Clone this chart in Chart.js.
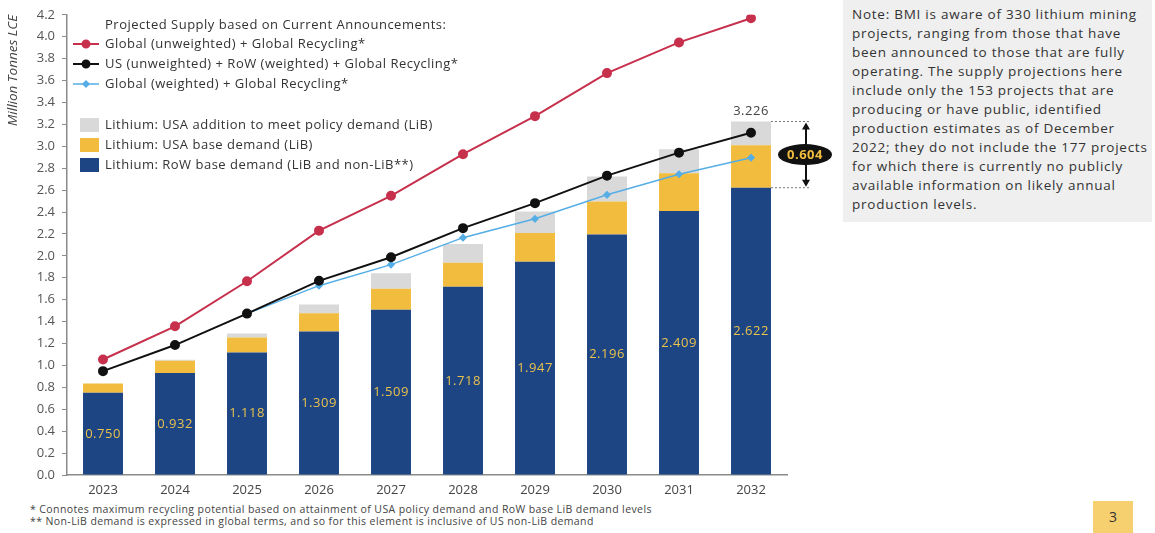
<!DOCTYPE html>
<html>
<head>
<meta charset="utf-8">
<script src="https://cdn.jsdelivr.net/npm/chart.js@4.4.1/dist/chart.umd.min.js"></script>
<style>
  body { margin: 0; width: 1155px; height: 533px; background: #fff; position: relative; overflow: hidden; font-family: "Open Sans", sans-serif; }
  #wrap { position: absolute; left: 0; top: 0; width: 840px; height: 500px; }
  #note { position: absolute; left: 843px; top: 0; width: 300px; height: 212px; background: #efefef; padding: 5px 0 5px 9px; font-size: 13.5px; line-height: 19px; letter-spacing: 0.75px; color: #333; white-space: nowrap; }
  .foot { position: absolute; left: 30px; font-size: 10.5px; line-height: 12px; letter-spacing: 0.4px; color: #444; white-space: nowrap; }
  #page { position: absolute; left: 1093px; top: 501px; width: 40px; height: 32px; background: #f6d06f; text-align: center; line-height: 32px; font-size: 14px; color: #333; }
</style>
</head>
<body>
<div id="wrap"><canvas id="supplyChart" width="840" height="500"></canvas></div>
<div id="note">Note: BMI is aware of 330 lithium mining<br>projects, ranging from those that have<br>been announced to those that are fully<br>operating. The supply projections here<br>include only the 153 projects that are<br>producing or have public, identified<br>production estimates as of December<br>2022; they do not include the 177 projects<br>for which there is currently no publicly<br>available information on likely annual<br>production levels.</div>
<div class="foot" style="top:503px">* Connotes maximum recycling potential based on attainment of USA policy demand and RoW base LiB demand levels</div>
<div class="foot" style="top:515px">** Non-LiB demand is expressed in global terms, and so for this element is inclusive of US non-LiB demand</div>
<div id="page">3</div>
<script>
const years = ['2023', '2024', '2025', '2026', '2027', '2028', '2029', '2030', '2031', '2032'];

// demand stacks (million tonnes LCE)
const rowBase = [0.750, 0.932, 1.118, 1.309, 1.509, 1.718, 1.947, 2.196, 2.409, 2.622];
const usaBase = [0.085, 0.110, 0.137, 0.168, 0.190, 0.218, 0.262, 0.300, 0.345, 0.388];
const usaPolicy = [0.000, 0.010, 0.036, 0.080, 0.142, 0.173, 0.196, 0.228, 0.219, 0.216];

// supply projections
const globalUnweighted = [1.054, 1.357, 1.768, 2.230, 2.548, 2.928, 3.275, 3.668, 3.948, 4.168];
const usRowMix = [0.948, 1.186, 1.473, 1.772, 1.987, 2.253, 2.481, 2.732, 2.942, 3.124];
const globalWeighted = [null, null, 1.473, 1.728, 1.920, 2.166, 2.338, 2.557, 2.745, 2.896];

const yTicks = [0, 0.2, 0.4, 0.6, 0.8, 1.0, 1.2, 1.4, 1.6, 1.8, 2.0, 2.2, 2.4, 2.6, 2.8, 3.0, 3.2, 3.4, 3.6, 3.8, 4.0, 4.2];

const NAVY = '#1d4483', GOLD = '#f2bd3f', GREY = '#d9d9d9';
const RED = '#c7304c', BLACK = '#111111', SKY = '#55aee6';
const FONT = "'Open Sans', sans-serif";

Chart.defaults.font.family = FONT;
Chart.defaults.color = '#555';

const lastIdx = years.length - 1;
const lastTotal = rowBase[lastIdx] + usaBase[lastIdx] + usaPolicy[lastIdx];
const usaGap = usaBase[lastIdx] + usaPolicy[lastIdx];

// labels in the bars, the 2032 total and the USA gap marker
const barLabels = {
  id: 'barLabels',
  afterDatasetsDraw(chart) {
    const { ctx, scales: { x, y } } = chart;
    const navyMeta = chart.getDatasetMeta(0);
    ctx.save();
    ctx.font = '13px ' + FONT;
    ctx.letterSpacing = '0.5px';
    ctx.textAlign = 'center';
    ctx.textBaseline = 'middle';
    ctx.fillStyle = '#eac24c';
    rowBase.forEach((v, i) => {
      ctx.fillText(v.toFixed(3), x.getPixelForValue(i), y.getPixelForValue(v / 2));
    });

    const bar = navyMeta.data[lastIdx];
    const cx = x.getPixelForValue(lastIdx);
    const yTop = y.getPixelForValue(lastTotal);
    const yBase = y.getPixelForValue(rowBase[lastIdx]);
    ctx.fillStyle = '#444';
    ctx.fillText(lastTotal.toFixed(3), cx, yTop - 10);

    // dotted guides
    const right = bar.x + bar.width / 2;
    const ax = 806;
    ctx.strokeStyle = '#777';
    ctx.lineWidth = 1;
    ctx.setLineDash([2, 2]);
    ctx.beginPath();
    ctx.moveTo(right, yTop); ctx.lineTo(ax + 4, yTop);
    ctx.moveTo(right, yBase); ctx.lineTo(ax + 4, yBase);
    ctx.stroke();
    ctx.setLineDash([]);

    // double arrow
    ctx.strokeStyle = '#111';
    ctx.fillStyle = '#111';
    ctx.lineWidth = 2;
    ctx.beginPath();
    ctx.moveTo(ax, yTop + 4); ctx.lineTo(ax, yBase - 4);
    ctx.stroke();
    ctx.beginPath();
    ctx.moveTo(ax, yTop + 1); ctx.lineTo(ax - 4, yTop + 8); ctx.lineTo(ax + 4, yTop + 8); ctx.closePath();
    ctx.moveTo(ax, yBase - 1); ctx.lineTo(ax - 4, yBase - 8); ctx.lineTo(ax + 4, yBase - 8); ctx.closePath();
    ctx.fill();

    const my = (yTop + yBase) / 2;
    ctx.beginPath();
    ctx.ellipse(ax - 1, my, 27, 10.5, 0, 0, Math.PI * 2);
    ctx.fill();
    ctx.fillStyle = GOLD;
    ctx.font = 'bold 13px ' + FONT;
    ctx.fillText(usaGap.toFixed(3), ax - 1, my + 0.5);
    ctx.restore();
  }
};

// legend block in the upper-left of the plot
const legendBlock = {
  id: 'legendBlock',
  afterDraw(chart) {
    const ctx = chart.ctx;
    ctx.save();
    ctx.font = '13px ' + FONT;
    ctx.letterSpacing = '0.5px';
    ctx.fillStyle = '#333';
    ctx.textBaseline = 'middle';
    ctx.textAlign = 'left';
    ctx.fillText('Projected Supply based on Current Announcements:', 105, 25);

    const lines = [
      { y: 44, color: RED, text: 'Global (unweighted) + Global Recycling*', style: 'circle', r: 3.5, w: 2 },
      { y: 64, color: BLACK, text: 'US (unweighted) + RoW (weighted) + Global Recycling*', style: 'circle', r: 3.5, w: 2 },
      { y: 84, color: SKY, text: 'Global (weighted) + Global Recycling*', style: 'rectRot', r: 3, w: 1.5 }
    ];
    lines.forEach(l => {
      ctx.strokeStyle = l.color;
      ctx.fillStyle = l.color;
      ctx.lineWidth = l.w;
      ctx.beginPath();
      ctx.moveTo(73, l.y); ctx.lineTo(99, l.y);
      ctx.stroke();
      Chart.helpers.drawPoint(ctx, { pointStyle: l.style, radius: l.r, borderWidth: 1 }, 86, l.y);
      ctx.fillStyle = '#333';
      ctx.fillText(l.text, 105, l.y);
    });

    const boxes = [
      { y: 125, color: GREY, text: 'Lithium: USA addition to meet policy demand (LiB)' },
      { y: 145, color: GOLD, text: 'Lithium: USA base demand (LiB)' },
      { y: 165, color: NAVY, text: 'Lithium: RoW base demand (LiB and non-LiB**)' }
    ];
    boxes.forEach(b => {
      ctx.fillStyle = b.color;
      ctx.fillRect(80, b.y - 7, 19, 14);
      ctx.fillStyle = '#333';
      ctx.fillText(b.text, 105, b.y);
    });
    ctx.restore();
  }
};

const barCommon = { stack: 'demand', order: 3, barPercentage: 0.555, categoryPercentage: 1.0, borderWidth: 0 };
const lineCommon = { type: 'line', fill: false, tension: 0, spanGaps: false };

new Chart(document.getElementById('supplyChart'), {
  type: 'bar',
  data: {
    labels: years,
    datasets: [
      { ...barCommon, label: 'Lithium: RoW base demand (LiB and non-LiB**)', data: rowBase, backgroundColor: NAVY },
      { ...barCommon, label: 'Lithium: USA base demand (LiB)', data: usaBase, backgroundColor: GOLD },
      { ...barCommon, label: 'Lithium: USA addition to meet policy demand (LiB)', data: usaPolicy, backgroundColor: GREY },
      { ...lineCommon, label: 'Global (unweighted) + Global Recycling*', data: globalUnweighted, stack: 's1', order: 0,
        borderColor: RED, backgroundColor: RED, borderWidth: 2, pointRadius: 4, pointHoverRadius: 4 },
      { ...lineCommon, label: 'US (unweighted) + RoW (weighted) + Global Recycling*', data: usRowMix, stack: 's2', order: 1,
        borderColor: BLACK, backgroundColor: BLACK, borderWidth: 2, pointRadius: 4, pointHoverRadius: 4 },
      { ...lineCommon, label: 'Global (weighted) + Global Recycling*', data: globalWeighted, stack: 's3', order: 2,
        borderColor: SKY, backgroundColor: SKY, borderWidth: 1.5, pointStyle: 'rectRot', pointRadius: 3, pointHoverRadius: 3 }
    ]
  },
  options: {
    responsive: false,
    animation: false,
    layout: { padding: { top: 13, right: 53, left: 0, bottom: 0 } },
    plugins: { legend: { display: false }, tooltip: { enabled: false } },
    scales: {
      x: {
        stacked: true,
        grid: { display: false, drawTicks: false },
        border: { display: true, color: '#8a8a8a', width: 1.5 },
        ticks: { color: '#444', font: { size: 13 }, padding: 7 },
        afterFit(s) { s.height = 25; }
      },
      y: {
        stacked: true,
        min: 0,
        max: 4.2,
        afterBuildTicks(s) { s.ticks = yTicks.map(v => ({ value: v })); },
        grid: { drawOnChartArea: false, drawTicks: true, tickLength: 5, color: '#8a8a8a' },
        border: { display: true, color: '#8a8a8a', width: 1.5 },
        ticks: { color: '#555', font: { size: 13 }, padding: 7, callback: v => Number(v).toFixed(1) },
        title: { display: true, text: 'Million Tonnes LCE', align: 'end', color: '#444', font: { size: 13.5, style: 'italic' }, padding: { top: 5, bottom: 0 } },
        afterFit(s) { s.width = 67; }
      }
    }
  },
  plugins: [barLabels, legendBlock]
});
</script>
</body>
</html>
